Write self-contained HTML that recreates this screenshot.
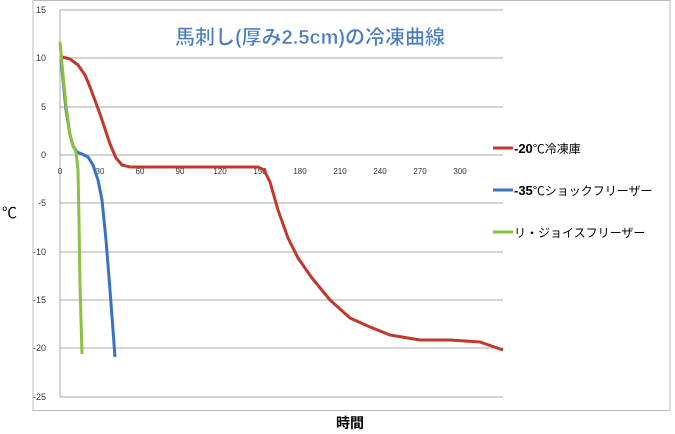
<!DOCTYPE html><html><head><meta charset="utf-8"><style>body{margin:0;background:#fff}svg{display:block;font-family:"Liberation Sans","Noto Sans CJK JP",sans-serif}</style></head><body>
<svg width="675" height="434" viewBox="0 0 675 434">
<rect x="33" y="0.5" width="637" height="410" fill="none" stroke="#bbb"/>
<g stroke="#aaa" stroke-width="1">
<line x1="60" y1="10" x2="503" y2="10"/><line x1="60" y1="58" x2="503" y2="58"/><line x1="60" y1="107" x2="503" y2="107"/><line x1="60" y1="155" x2="503" y2="155"/><line x1="60" y1="203" x2="503" y2="203"/><line x1="60" y1="252" x2="503" y2="252"/><line x1="60" y1="300" x2="503" y2="300"/><line x1="60" y1="348" x2="503" y2="348"/><line x1="60" y1="397" x2="503" y2="397"/>
<line x1="60" y1="10" x2="60" y2="397"/>
</g>
<g fill="#333" font-size="9" text-anchor="end">
<text x="46" y="13">15</text><text x="46" y="61">10</text><text x="46" y="110">5</text><text x="46" y="158">0</text><text x="46" y="206">-5</text><text x="46" y="255">-10</text><text x="46" y="303">-15</text><text x="46" y="351">-20</text><text x="46" y="400">-25</text>
</g>
<g fill="#333" font-size="8" text-anchor="middle">
<text x="60" y="174">0</text><text x="100" y="174">30</text><text x="140" y="174">60</text><text x="180" y="174">90</text><text x="220" y="174">120</text><text x="260" y="174">150</text><text x="300" y="174">180</text><text x="340" y="174">210</text><text x="380" y="174">240</text><text x="420" y="174">270</text><text x="460" y="174">300</text>
</g>
<text x="310" y="44" font-size="20" font-weight="bold" fill="#4a7cc0" stroke="#fff" stroke-width="0.5" text-anchor="middle">馬刺し(厚み2.5cm)の冷凍曲線</text>
<g fill="none" stroke-width="3" stroke-linejoin="round">
<polyline stroke="#c0392b" points="62,57 70,59 78,65 85,75 90,87 100,114 110,144 116,158 122,165 130,167 160,167 258,167 264,170 270,182 278,210 288,238 298,258 312,278 330,300 350,318 370,327 390,335 420,340 450,340 480,342 503,350"/>
<polyline stroke="#3a72c0" points="61,58 63,80 66,110 70,135 73,146 77,152 82,154 88,157 93,165 98,180 102,200 106,240 110,290 115,357"/>
<polyline stroke="#8cc040" points="60,42 63,75 66,105 70,135 73,145 76,152 78,170 79,220 80,285 82,354"/>
</g>
<g stroke-width="3"><line x1="493" y1="148" x2="513" y2="148" stroke="#c0392b"/><line x1="493" y1="190" x2="513" y2="190" stroke="#3a72c0"/><line x1="493" y1="232" x2="513" y2="232" stroke="#8cc040"/></g>
<g font-size="12" fill="#000"><text x="514" y="153"><tspan font-weight="bold" font-size="13">-20</tspan>℃冷凍庫</text><text x="514" y="195"><tspan font-weight="bold" font-size="13">-35</tspan>℃ショックフリーザー</text><text x="514" y="237">リ・ジョイスフリーザー</text></g>
<text x="2" y="218" font-size="15">℃</text>
<text x="350" y="428" font-size="14" font-weight="bold" text-anchor="middle">時間</text>
</svg></body></html>
